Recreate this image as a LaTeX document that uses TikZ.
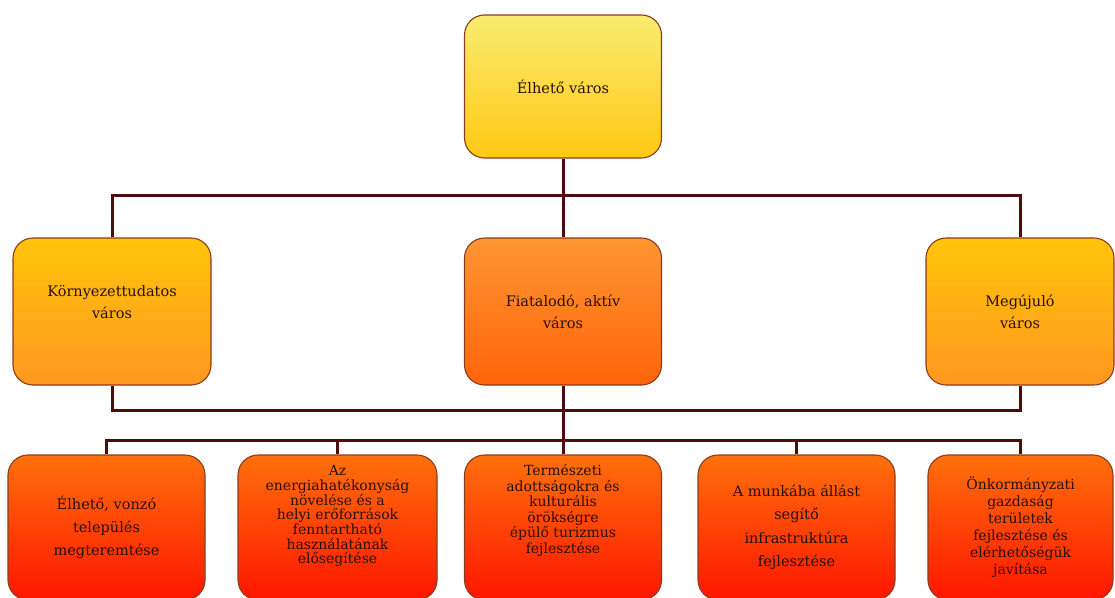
\documentclass[tikz,border=0pt]{standalone}
\usepackage{fontspec}
\setmainfont{DejaVu Serif}
\begin{document}
\begin{tikzpicture}[x=1pt,y=-1pt,
  box/.style={draw=boxborder, line width=1.1pt, rounded corners=20pt, align=center,
    inner sep=2pt, font=\fontsize{14.5}{22}\selectfont, text=textc},
  lvl0/.style={box, top color=lvlzt, bottom color=lvlzb},
  lvl1/.style={box, top color=lvlot, bottom color=lvlob},
  lvl1m/.style={box, top color=lvlmt, bottom color=lvlmb},
  lvl2/.style={box, top color=lvltt, bottom color=lvltb},
  conn/.style={draw=connc, line width=3pt}]
\definecolor{textc}{RGB}{40,15,10}
\definecolor{boxborder}{RGB}{140,60,30}
\definecolor{connc}{RGB}{80,12,12}
\definecolor{lvlzt}{RGB}{250,236,112}
\definecolor{lvlzb}{RGB}{255,200,20}
\definecolor{lvlot}{RGB}{255,196,10}
\definecolor{lvlob}{RGB}{255,152,32}
\definecolor{lvlmt}{RGB}{255,150,50}
\definecolor{lvlmb}{RGB}{255,100,10}
\definecolor{lvltt}{RGB}{255,112,12}
\definecolor{lvltb}{RGB}{255,22,0}
\useasboundingbox (0,0) rectangle (1115,597);
\clip (0,0) rectangle (1115,597);
\fill[white] (0,0) rectangle (1115,597);

\coordinate (busA) at (563,195);
\coordinate (busB) at (563,410);
\coordinate (busC) at (563,440);

\node[lvl0, minimum width=197pt, minimum height=143pt] (top) at (563,86.5) {Élhető város};
\node[lvl1, minimum width=198pt, minimum height=147pt] (l) at (112,311.5) {Környezettudatos\\város\\[-2pt]};
\node[lvl1m, minimum width=197pt, minimum height=147pt] (m) at (563,311.5) {Fiatalodó, aktív\\város};
\node[lvl1, minimum width=188pt, minimum height=147pt] (r) at (1020,311.5) {Megújuló\\város};

\node[lvl2, minimum width=197pt, minimum height=145pt, font=\fontsize{14.5}{23}\selectfont] (b1) at (106.5,527.5) {Élhető, vonzó\\település\\megteremtése};
\node[lvl2, minimum width=199pt, minimum height=145pt, font=\fontsize{14}{14.2}\selectfont] (b2) at (337.5,527.5) {Az\\energiahatékonyság\\növelése és a\\helyi erőforrások\\fenntartható\\használatának\\elősegítése\\[12pt]};
\node[lvl2, minimum width=197pt, minimum height=145pt, font=\fontsize{14}{15.5}\selectfont] (b3) at (563,527.5) {Természeti\\adottságokra és\\kulturális\\örökségre\\épülő turizmus\\fejlesztése\\[22pt]};
\node[lvl2, minimum width=197pt, minimum height=145pt, font=\fontsize{14.5}{23.5}\selectfont] (b4) at (796.5,527.5) {A munkába állást\\segítő\\infrastruktúra\\fejlesztése};
\node[lvl2, minimum width=185pt, minimum height=145pt, font=\fontsize{14}{17}\selectfont] (b5) at (1020.5,527.5) {Önkormányzati\\gazdaság\\területek\\fejlesztése és\\elérhetőségük\\javítása};

\draw[conn] (top.south) -- (busA);
\draw[conn] (l.north) |- (busA);
\draw[conn] (r.north) |- (busA);
\draw[conn] (busA) -- (m.north);
\draw[conn] (l.south) |- (busB);
\draw[conn] (r.south) |- (busB);
\draw[conn] (m.south) -- (busC);
\draw[conn] (b1.north) |- (busC);
\draw[conn] (b2.north) |- (busC);
\draw[conn] (b3.north) -- (busC);
\draw[conn] (b4.north) |- (busC);
\draw[conn] (b5.north) |- (busC);
\end{tikzpicture}
\end{document}
